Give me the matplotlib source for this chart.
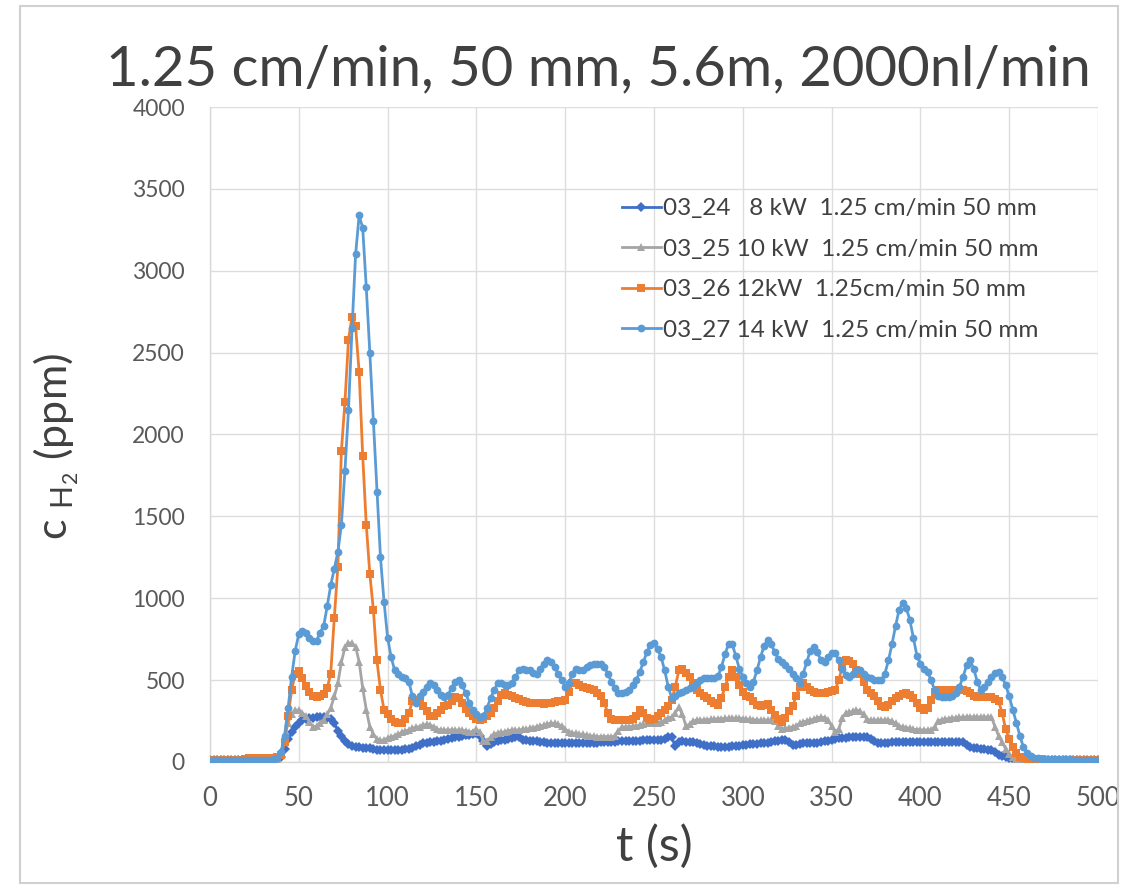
import numpy as np
import matplotlib
matplotlib.use("Agg")
import matplotlib.pyplot as plt
from matplotlib.patches import Rectangle

plt.rcParams["font.family"] = ["Lato", "DejaVu Sans"]

# sampling grid (s)
t = np.arange(0, 501, 2)

labels = [
    "03_24   8 kW  1.25 cm/min 50 mm",
    "03_25 10 kW  1.25 cm/min 50 mm",
    "03_26 12kW  1.25cm/min 50 mm",
    "03_27 14 kW  1.25 cm/min 50 mm",
]

# H2 concentration (ppm), one value every 2 s
c_0324 = [
    15, 15, 15, 15, 15, 15, 15, 15, 15, 15,
    15, 15, 15, 15, 15, 15, 16, 16, 18, 20,
    30, 80, 140, 180, 215, 235, 255, 262, 266, 270,
    272, 275, 275, 270, 262, 240, 190, 160, 130, 110,
    95, 92, 90, 88, 86, 84, 80, 76, 74, 73,
    73, 72, 72, 73, 75, 78, 82, 88, 95, 105,
    116, 118, 120, 122, 125, 130, 135, 140, 145, 150,
    155, 158, 162, 166, 170, 177, 160, 130, 100, 110,
    120, 126, 132, 136, 140, 145, 150, 153, 135, 132,
    130, 128, 125, 122, 120, 118, 116, 116, 116, 116,
    116, 116, 116, 116, 116, 116, 116, 117, 118, 118,
    120, 120, 122, 122, 124, 125, 126, 128, 128, 130,
    130, 130, 132, 132, 133, 134, 134, 135, 140, 150,
    150, 95, 120, 125, 122, 122, 122, 118, 112, 106,
    100, 97, 95, 93, 92, 92, 93, 95, 97, 100,
    102, 105, 108, 110, 112, 114, 116, 118, 120, 125,
    130, 134, 134, 120, 104, 106, 110, 113, 115, 116,
    116, 118, 120, 125, 130, 135, 140, 144, 147, 148,
    150, 152, 153, 153, 153, 153, 140, 125, 116, 116,
    117, 118, 119, 120, 120, 121, 122, 122, 122, 122,
    122, 122, 122, 122, 122, 122, 122, 122, 122, 122,
    122, 122, 120, 105, 92, 88, 84, 80, 77, 74,
    70, 60, 45, 35, 28, 22, 18, 14, 12, 12,
    10, 10, 10, 10, 10, 10, 10, 10, 10, 10,
    10, 10, 10, 10, 10, 10, 10, 10, 10, 10,
    10,
]

c_0325 = [
    8, 8, 8, 8, 8, 8, 8, 8, 8, 8,
    10, 10, 10, 10, 10, 10, 10, 12, 14, 18,
    50, 150, 240, 290, 315, 318, 300, 280, 245, 214,
    220, 240, 258, 290, 330, 400, 480, 610, 700, 727,
    725, 705, 610, 450, 320, 214, 170, 140, 132, 135,
    145, 153, 160, 170, 180, 190, 195, 205, 214, 214,
    225, 230, 225, 215, 200, 195, 195, 195, 195, 195,
    195, 195, 190, 185, 180, 200, 180, 130, 130, 150,
    170, 177, 180, 185, 190, 195, 195, 195, 200, 200,
    205, 210, 215, 220, 225, 230, 238, 235, 230, 220,
    200, 185, 177, 175, 170, 168, 165, 160, 158, 155,
    155, 155, 155, 153, 160, 190, 214, 214, 215, 218,
    220, 225, 230, 235, 238, 238, 240, 245, 255, 270,
    275, 300, 335, 290, 220, 230, 250, 256, 256, 256,
    258, 260, 262, 264, 265, 266, 268, 268, 268, 268,
    265, 262, 260, 258, 256, 256, 256, 256, 256, 250,
    220, 200, 205, 210, 214, 220, 235, 245, 250, 255,
    262, 270, 275, 270, 255, 220, 185, 200, 270, 300,
    305, 310, 318, 310, 290, 260, 256, 256, 256, 256,
    256, 256, 250, 235, 220, 214, 210, 205, 200, 198,
    196, 195, 195, 196, 215, 250, 258, 262, 265, 268,
    270, 272, 274, 275, 275, 275, 275, 275, 275, 275,
    275, 214, 160, 120, 80, 50, 31, 20, 15, 12,
    10, 10, 10, 10, 10, 10, 10, 10, 10, 10,
    10, 10, 10, 10, 10, 10, 10, 10, 10, 10,
    10,
]

c_0326 = [
    10, 12, 10, 12, 10, 10, 12, 10, 12, 12,
    20, 22, 22, 24, 24, 22, 24, 25, 26, 28,
    40, 120, 280, 440, 540, 555, 510, 465, 430, 405,
    395, 400, 415, 450, 540, 880, 1190, 1900, 2200, 2580,
    2720, 2660, 2380, 1870, 1450, 1150, 930, 620, 440, 320,
    290, 260, 245, 238, 240, 260, 300, 370, 380, 365,
    340, 310, 280, 280, 300, 320, 340, 350, 370, 395,
    390, 360, 325, 300, 280, 262, 256, 262, 280, 300,
    330, 370, 410, 420, 410, 400, 390, 385, 370, 365,
    360, 360, 360, 360, 355, 360, 360, 365, 370, 375,
    380, 430, 480, 480, 470, 460, 450, 445, 440, 420,
    400, 360, 300, 260, 256, 256, 256, 255, 255, 260,
    280, 318, 300, 270, 256, 260, 280, 300, 320, 340,
    380, 460, 560, 570, 545, 520, 480, 440, 420, 400,
    390, 375, 362, 345, 390, 460, 520, 560, 520, 470,
    430, 400, 395, 375, 350, 340, 345, 355, 320, 285,
    260, 245, 270, 310, 340, 400, 455, 480, 460, 440,
    425, 420, 420, 420, 425, 435, 440, 500, 580, 620,
    615, 600, 560, 540, 490, 440, 420, 400, 370, 340,
    336, 350, 370, 390, 405, 415, 420, 410, 390, 360,
    330, 318, 330, 380, 430, 440, 440, 440, 440, 440,
    440, 440, 440, 435, 420, 400, 395, 395, 397, 397,
    395, 385, 370, 300, 200, 140, 90, 55, 31, 24,
    20, 18, 18, 16, 16, 15, 15, 15, 14, 14,
    14, 14, 13, 13, 13, 12, 12, 12, 12, 12,
    12,
]

c_0327 = [
    10, 10, 12, 10, 8, 10, 12, 10, 10, 12,
    12, 14, 12, 15, 14, 12, 14, 15, 18, 25,
    60, 160, 330, 520, 680, 780, 800, 790, 760, 740,
    740, 790, 830, 950, 1080, 1180, 1280, 1450, 1780, 2150,
    2650, 3100, 3340, 3260, 2900, 2500, 2080, 1650, 1250, 980,
    760, 640, 560, 540, 520, 510, 490, 400, 360, 400,
    430, 460, 480, 470, 440, 410, 395, 410, 450, 490,
    500, 470, 420, 360, 320, 290, 275, 280, 330, 390,
    440, 480, 480, 470, 470, 480, 520, 560, 570, 560,
    560, 545, 540, 570, 600, 620, 610, 580, 540, 500,
    460, 480, 540, 570, 560, 560, 580, 590, 600, 600,
    600, 580, 540, 490, 450, 420, 420, 430, 440, 470,
    500, 550, 610, 670, 715, 725, 690, 640, 560, 460,
    390, 400, 420, 430, 440, 450, 460, 480, 500, 510,
    510, 510, 515, 525, 580, 660, 720, 720, 650, 570,
    520, 480, 460, 490, 560, 640, 710, 745, 720, 670,
    630, 610, 590, 565, 540, 510, 485, 540, 610, 680,
    700, 670, 620, 610, 640, 665, 665, 620, 570, 530,
    520, 540, 560, 560, 540, 520, 510, 500, 500, 500,
    540, 620, 720, 830, 930, 970, 940, 870, 760, 650,
    600, 570, 550, 500, 440, 400, 395, 395, 395, 400,
    420, 460, 520, 590, 620, 570, 490, 440, 460, 490,
    520, 545, 550, 520, 470, 400, 320, 240, 160, 90,
    55, 35, 25, 22, 20, 20, 20, 18, 18, 18,
    18, 16, 16, 15, 15, 15, 14, 14, 14, 14,
    14,
]

series = [c_0324, c_0325, c_0326, c_0327]
colors = ["#3F6FC6", "#A5A5A5", "#ED7D31", "#5B9BD5"]
markers = ["D", "^", "s", "o"]
msizes = [5.2, 6.2, 5.4, 5.6]

x_ticks = [0, 50, 100, 150, 200, 250, 300, 350, 400, 450, 500]
y_ticks = [0, 500, 1000, 1500, 2000, 2500, 3000, 3500, 4000]

fig = plt.figure(figsize=(11.27, 8.86), dpi=100)
ax = fig.add_axes([0.1863, 0.140, 0.788, 0.7392])

for vals, col, mk, ms, lab in zip(series, colors, markers, msizes, labels):
    ax.plot(t, vals, color=col, lw=2.0, marker=mk, markersize=ms,
            markeredgewidth=0, label=lab, zorder=3)

ax.set_xlim(0, 500)
ax.set_ylim(0, 4000)
ax.set_xticks(x_ticks)
ax.set_yticks(y_ticks)
ax.grid(True, color="#DDDDDD", lw=1.0, zorder=0)
ax.set_axisbelow(True)
for side in ["top", "right"]:
    ax.spines[side].set_visible(False)
for side in ["left", "bottom"]:
    ax.spines[side].set_color("#D9D9D9")
    ax.spines[side].set_linewidth(1.0)
ax.tick_params(axis="both", length=0, colors="#595959")
ax.tick_params(axis="y", labelsize=16.5, pad=18)
ax.tick_params(axis="x", labelsize=18.5, pad=17)

ax.set_xlabel("t (s)", fontsize=35, color="#404040", labelpad=10)
ax.set_ylabel(r"c $_{\mathregular{H_2}}$ (ppm)", fontsize=31, color="#404040")
ax.yaxis.set_label_coords(-0.145, 0.482)

fig.text(0.531, 0.921, "1.25 cm/min, 50 mm, 5.6m, 2000nl/min",
         ha="center", va="center", fontsize=40.5, color="#404040")

leg = ax.legend(loc="upper left", bbox_to_anchor=(0.541, 0.79),
                bbox_transform=fig.transFigure, frameon=False,
                fontsize=17.5, handlelength=1.6, handletextpad=0.1,
                labelspacing=0.8, borderpad=0)
for txt in leg.get_texts():
    txt.set_color("#404040")

# light frame around the whole chart
fig.patches.append(Rectangle((20 / 1127, 1 - 883 / 886), 1098 / 1127, 877 / 886,
                             transform=fig.transFigure, fill=False,
                             edgecolor="#D0D0D0", lw=1.5))

fig.savefig("out.png", dpi=100)
